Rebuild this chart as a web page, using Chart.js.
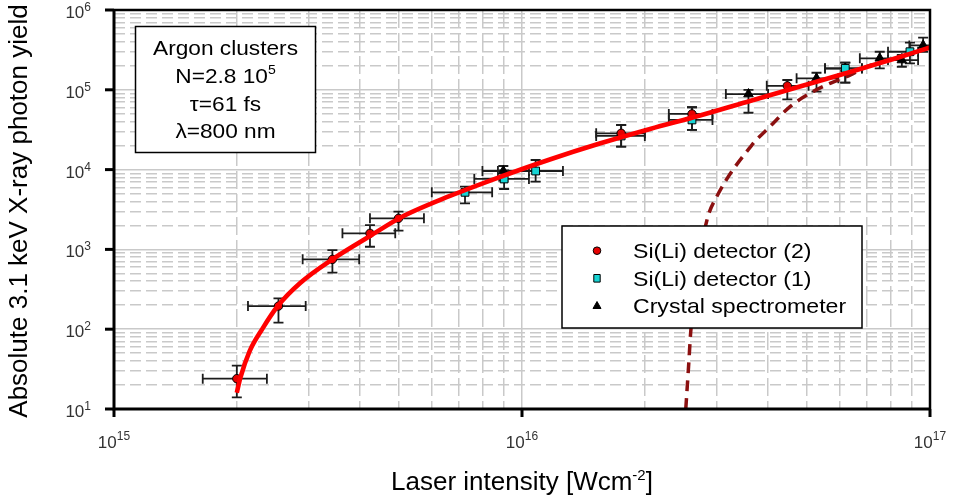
<!DOCTYPE html>
<html><head><meta charset="utf-8">
<script src="https://cdn.jsdelivr.net/npm/chart.js@4.4.1/dist/chart.umd.min.js"></script>
<style>html,body{margin:0;padding:0;background:#fff;}#wrap{width:954px;height:502px;}</style>
</head><body><div id="wrap"><canvas id="c" width="954" height="502"></canvas></div>
<script>
// ---------------- DATA ----------------
const seriesNames = ['Si(Li) detector (2)', 'Si(Li) detector (1)', 'Crystal spectrometer'];

// Si(Li) detector (2) – red circles
const siLi2X   = [2.0e15, 2.53e15, 3.43e15, 4.24e15, 4.98e15, 1.75e16, 2.61e16, 4.47e16];
const siLi2Y   = [24, 195, 750, 1590, 2450, 28500, 49800, 112000];
const siLi2XLo = [1.65e15, 2.13e15, 2.90e15, 3.63e15, 4.24e15, 1.52e16, 2.29e16, 3.98e16];
const siLi2XHi = [2.37e15, 2.95e15, 3.99e15, 4.89e15, 5.75e15, 2.0e16, 2.93e16, 5.04e16];
const siLi2YLo = [14, 121, 511, 1080, 1715, 19400, 31400, 76000];
const siLi2YHi = [35, 244, 982, 2020, 2970, 36200, 60400, 132700];

// Si(Li) detector (1) – cyan squares
const siLi1X   = [7.25e15, 9.04e15, 1.08e16, 1.75e16, 2.61e16, 6.2e16, 8.93e16];
const siLi1Y   = [5190, 7630, 9600, 26400, 41900, 185800, 300000];
const siLi1XLo = [6.01e15, 7.64e15, 8.73e15, 1.52e16, 2.29e16, 5.53e16, 7.89e16];
const siLi1XHi = [8.45e15, 1.04e16, 1.26e16, 2.0e16, 2.93e16, 6.81e16, 9.35e16];
const siLi1YLo = [3780, 5710, 7050, 19400, 31400, 122800, 214600];
const siLi1YHi = [6110, 9800, 13200, 36200, 60400, 218800, 389000];

// Crystal spectrometer – black triangles
const crysX   = [9.0e15, 3.59e16, 5.27e16, 6.2e16, 7.53e16, 8.53e16, 9.62e16];
const crysY   = [9600, 88500, 139300, 185000, 248000, 236000, 360000];
const crysXLo = [8.0e15, 3.16e16, 4.71e16, 5.53e16, 6.73e16, 7.89e16, 8.9e16];
const crysXHi = [1.04e16, 4.01e16, 5.96e16, 6.81e16, 8.53e16, 9.35e16, 1.0e17];
const crysYLo = [7300, 51600, 94600, 122800, 185800, 194500, 300000];
const crysYHi = [11100, 100000, 163600, 218800, 300000, 273000, 450000];

// red solid model curve
const fitX = [2.0e15, 2.04e15, 2.15e15, 2.31e15, 2.52e15, 2.86e15, 3.44e15, 4.24e15, 5.02e15, 6.66e15, 8.83e15, 1.17e16, 1.55e16, 2.06e16, 2.73e16, 3.62e16, 4.80e16, 6.37e16, 8.44e16, 1.0e17];
const fitY = [16, 24.5, 53, 101, 195, 379, 758, 1470, 2480, 4670, 8080, 13400, 21200, 32300, 47600, 72400, 110000, 167000, 258000, 339000];

// dark red dashed curve
const dashX = [2.52e16, 2.56e16, 2.59e16, 2.67e16, 2.84e16, 3.0e16, 3.66e16, 4.05e16, 4.54e16, 5.08e16, 5.69e16, 6.37e16, 7.0e16, 8.44e16, 1.0e17];
const dashY = [10, 34, 89, 414, 2330, 4570, 20300, 34500, 61400, 90400, 120500, 153000, 194600, 258000, 339000];

// axis ticks (exponents of 10)
const xTickExp = [15, 16, 17];
const yTickExp = [1, 2, 3, 4, 5, 6];
const xTitle = ['Laser intensity [Wcm', '-2', ']'];
const yTitle = 'Absolute 3.1 keV X-ray photon yield';
const infoLines = ['Argon clusters', ['N=2.8 10', '5'], 'τ=61 fs', 'λ=800 nm'];

// ---------------- HELPERS ----------------
const FONT = '"Liberation Sans", Arial, sans-serif';
const pts = (xs, ys) => xs.map((x, i) => ({x: x, y: ys[i]}));
const isPow10 = v => Math.abs(Math.log10(v) - Math.round(Math.log10(v))) < 1e-9;

function drawRich(ctx, parts, x, y, align, sx, color) {
  sx = sx || 1;
  let w = 0;
  for (const p of parts) { ctx.font = p.size + 'px ' + FONT; w += ctx.measureText(p.t).width; }
  w *= sx;
  let cx = align === 'center' ? x - w / 2 : (align === 'right' ? x - w : x);
  ctx.save();
  ctx.fillStyle = color || '#000';
  ctx.textBaseline = 'alphabetic';
  ctx.textAlign = 'left';
  for (const p of parts) {
    ctx.font = p.size + 'px ' + FONT;
    const pw = ctx.measureText(p.t).width;
    ctx.save(); ctx.translate(cx, y + (p.dy || 0)); ctx.scale(sx, 1); ctx.fillText(p.t, 0, 0); ctx.restore();
    cx += pw * sx;
  }
  ctx.restore();
}

const errorSets = [
  [siLi2X, siLi2Y, siLi2XLo, siLi2XHi, siLi2YLo, siLi2YHi],
  [siLi1X, siLi1Y, siLi1XLo, siLi1XHi, siLi1YLo, siLi1YHi],
  [crysX, crysY, crysXLo, crysXHi, crysYLo, crysYHi]
];

const errorBarPlugin = {
  id: 'errbars',
  beforeDatasetsDraw(chart) {
    const {ctx, chartArea: a, scales: {x: sx, y: sy}} = chart;
    ctx.save();
    ctx.beginPath(); ctx.rect(a.left, a.top, a.right - a.left, a.bottom - a.top); ctx.clip();
    ctx.strokeStyle = '#1c1c1c'; ctx.lineWidth = 1.8;
    const cap = 5;
    for (const [X, Y, XL, XH, YL, YH] of errorSets) {
      for (let i = 0; i < X.length; i++) {
        const px = sx.getPixelForValue(X[i]), py = sy.getPixelForValue(Y[i]);
        const xl = sx.getPixelForValue(XL[i]), xh = sx.getPixelForValue(XH[i]);
        const yl = sy.getPixelForValue(YL[i]), yh = sy.getPixelForValue(YH[i]);
        ctx.beginPath();
        ctx.moveTo(xl, py); ctx.lineTo(xh, py);
        ctx.moveTo(xl, py - cap); ctx.lineTo(xl, py + cap);
        ctx.moveTo(xh, py - cap); ctx.lineTo(xh, py + cap);
        ctx.moveTo(px, yl); ctx.lineTo(px, yh);
        ctx.moveTo(px - cap, yl); ctx.lineTo(px + cap, yl);
        ctx.moveTo(px - cap, yh); ctx.lineTo(px + cap, yh);
        ctx.stroke();
      }
    }
    ctx.restore();
  }
};

function drawMarker(ctx, style, x, y) {
  ctx.save();
  ctx.lineWidth = 1; ctx.strokeStyle = '#000';
  ctx.beginPath();
  if (style === 'circle') { ctx.fillStyle = '#e60000'; ctx.arc(x, y, 3.8, 0, Math.PI * 2); }
  else if (style === 'rect') { ctx.fillStyle = '#17d4d4'; ctx.rect(x - 3.2, y - 3.8, 6.4, 7.6); }
  else { ctx.fillStyle = '#000'; ctx.moveTo(x, y - 4.5); ctx.lineTo(x + 4, y + 2.5); ctx.lineTo(x - 4, y + 2.5); ctx.closePath(); }
  ctx.fill(); ctx.stroke();
  ctx.restore();
}

const decorPlugin = {
  id: 'decor',
  afterDatasetsDraw(chart) {
    const {ctx} = chart;
    // info box
    ctx.save();
    ctx.fillStyle = '#fff'; ctx.fillRect(135.5, 26.5, 180, 126);
    ctx.strokeStyle = '#000'; ctx.lineWidth = 1.5; ctx.strokeRect(135.5, 26.5, 180, 126);
    ctx.restore();
    const bx = 225.5, base = [55, 83.3, 110.7, 138.3];
    infoLines.forEach((ln, i) => {
      const parts = Array.isArray(ln) ? [{t: ln[0], size: 21}, {t: ln[1], size: 13, dy: -9}] : [{t: ln, size: 21}];
      drawRich(ctx, parts, bx, base[i], 'center', 1.08, '#000');
    });
    // legend
    ctx.save();
    ctx.fillStyle = '#fff'; ctx.fillRect(562, 226, 300, 102);
    ctx.strokeStyle = '#000'; ctx.lineWidth = 1.5; ctx.strokeRect(562, 226, 300, 102);
    ctx.restore();
    const styles = ['circle', 'rect', 'triangle'];
    const ly = [250.7, 278.3, 306];
    seriesNames.forEach((n, i) => {
      drawMarker(ctx, styles[i], 597, ly[i]);
      drawRich(ctx, [{t: n, size: 21}], 633, ly[i] + 7.3, 'left', 1.1, '#000');
    });
  },
  afterDraw(chart) {
    const {ctx, chartArea: a, scales: {x: sx, y: sy}} = chart;
    ctx.save();
    ctx.strokeStyle = '#000';
    ctx.lineWidth = 2.5;
    ctx.beginPath(); ctx.moveTo(a.left, a.top); ctx.lineTo(a.right, a.top); ctx.lineTo(a.right, a.bottom); ctx.stroke();
    ctx.lineWidth = 3;
    ctx.beginPath(); ctx.moveTo(a.left, a.top - 1); ctx.lineTo(a.left, a.bottom); ctx.lineTo(a.right + 1, a.bottom); ctx.stroke();
    // major ticks
    ctx.lineWidth = 3;
    for (const e of yTickExp) {
      const py = sy.getPixelForValue(Math.pow(10, e));
      ctx.beginPath(); ctx.moveTo(a.left - 9, py); ctx.lineTo(a.left, py); ctx.stroke();
    }
    for (const e of xTickExp) {
      const px = sx.getPixelForValue(Math.pow(10, e));
      ctx.beginPath(); ctx.moveTo(px, a.bottom); ctx.lineTo(px, a.bottom + 8); ctx.stroke();
    }
    ctx.restore();
    // tick labels
    for (const e of yTickExp) {
      const py = sy.getPixelForValue(Math.pow(10, e));
      drawRich(ctx, [{t: '10', size: 17}, {t: String(e), size: 12, dy: -7}], 91, py + 8, 'right', 1, '#333');
    }
    for (const e of xTickExp) {
      const px = sx.getPixelForValue(Math.pow(10, e));
      drawRich(ctx, [{t: '10', size: 17}, {t: String(e), size: 12, dy: -8}], px, 448, 'center', 1, '#333');
    }
    // axis titles
    drawRich(ctx, [{t: xTitle[0], size: 26}, {t: xTitle[1], size: 15, dy: -10}, {t: xTitle[2], size: 26}], 522, 490, 'center', 1, '#000');
    ctx.save();
    ctx.translate(27, 211);
    ctx.rotate(-Math.PI / 2);
    drawRich(ctx, [{t: yTitle, size: 26}], 0, 0, 'center', 1, '#000');
    ctx.restore();
  }
};

const dashFn = (minorDash) => (c) => (c.tick && isPow10(c.tick.value)) ? [] : minorDash;
const keepInt = (scale) => {
  scale.ticks = scale.ticks.filter(t => {
    const m = t.value / Math.pow(10, Math.floor(Math.log10(t.value) + 1e-9));
    return Math.abs(m - Math.round(m)) < 1e-6;
  });
};

new Chart(document.getElementById('c'), {
  type: 'scatter',
  data: {
    datasets: [
      {label: 'fit', data: pts(fitX, fitY), showLine: true, borderColor: '#ff0000', borderWidth: 4.6,
       pointRadius: 0, cubicInterpolationMode: 'monotone', order: 0},
      {label: 'dashed', data: pts(dashX, dashY), showLine: true, borderColor: '#8b1010', borderWidth: 3.5,
       borderDash: [11, 7], pointRadius: 0, cubicInterpolationMode: 'monotone', order: 1},
      {label: seriesNames[2], data: pts(crysX, crysY), pointStyle: 'triangle', pointRadius: 5.5,
       backgroundColor: '#000', borderColor: '#000', borderWidth: 1, order: 4},
      {label: seriesNames[1], data: pts(siLi1X, siLi1Y), pointStyle: 'rect', pointRadius: 5.5,
       backgroundColor: '#17d4d4', borderColor: '#000', borderWidth: 1, order: 3},
      {label: seriesNames[0], data: pts(siLi2X, siLi2Y), pointStyle: 'circle', pointRadius: 4.2,
       backgroundColor: '#e60000', borderColor: '#000', borderWidth: 1, order: 2}
    ]
  },
  options: {
    responsive: false,
    animation: false,
    layout: {padding: {left: 114, right: 24, top: 10, bottom: 93}},
    plugins: {legend: {display: false}, tooltip: {enabled: false}, title: {display: false}},
    scales: {
      x: {type: 'logarithmic', min: 1e15, max: 1e17,
          afterBuildTicks: keepInt,
          ticks: {display: false},
          grid: {color: '#c9c9c9', lineWidth: 1.5, drawTicks: false},
          border: {display: false, dash: dashFn([18, 5])}},
      y: {type: 'logarithmic', min: 10, max: 1e6,
          afterBuildTicks: keepInt,
          ticks: {display: false},
          grid: {color: '#c9c9c9', lineWidth: 1.5, drawTicks: false},
          border: {display: false, dash: dashFn([11, 5])}}
    }
  },
  plugins: [errorBarPlugin, decorPlugin]
});
</script>
</body></html>
